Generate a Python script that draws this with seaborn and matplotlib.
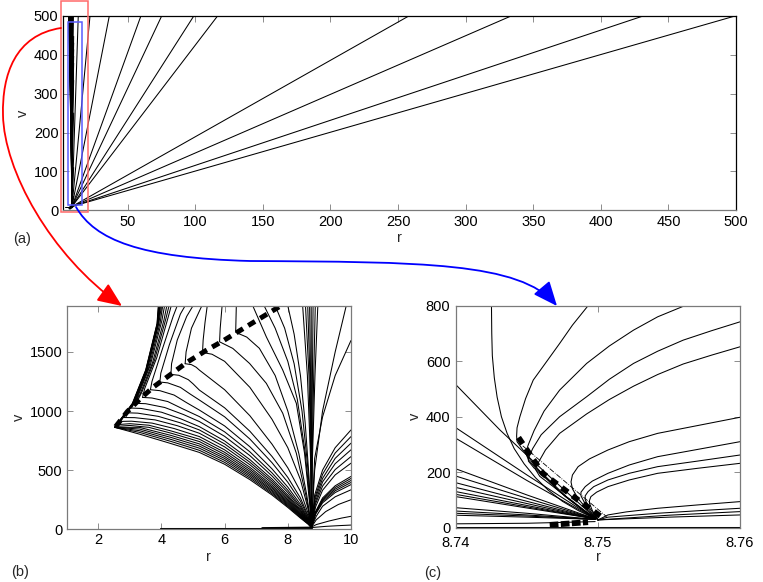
import numpy as np
import pandas as pd
import matplotlib
matplotlib.use("Agg")
import matplotlib.pyplot as plt
import seaborn as sns
from matplotlib.path import Path
from matplotlib.patches import FancyArrowPatch, Rectangle

# ---------------- data (r, v) ----------------
# panel (b): lower branches of the left family (kink -> convergence point)
b_lower = [
    [(2.52,862),(3.3,805),(4.3,725),(5.2,650),(6.0,550),(6.8,420),(7.5,290),(8.0,185),(8.4,95),(8.65,42),(8.75,15)],
    [(2.52,862),(3.3,820),(4.3,743),(5.2,668),(6.0,566),(6.8,434),(7.5,301),(8.0,194),(8.4,101),(8.65,44),(8.75,15)],
    [(2.52,862),(3.3,834),(4.3,760),(5.2,686),(6.0,583),(6.8,448),(7.5,312),(8.0,202),(8.4,107),(8.65,47),(8.75,15)],
    [(2.52,862),(3.3,848),(4.3,777),(5.2,704),(6.0,599),(6.8,462),(7.5,324),(8.0,211),(8.4,113),(8.65,49),(8.75,15)],
    [(2.52,862),(3.3,862),(4.3,794),(5.2,722),(6.0,615),(6.8,476),(7.5,334),(8.0,220),(8.4,118),(8.65,51),(8.75,15)],
    [(2.57,870),(3.0,878),(3.6,862),(4.3,813),(5.2,742),(6.0,633),(6.8,491),(7.5,347),(8.0,229),(8.4,125),(8.65,54),(8.75,15)],
    [(2.62,885),(3.0,893),(3.6,880),(4.3,832),(5.2,762),(6.0,651),(6.8,507),(7.5,359),(8.0,239),(8.4,131),(8.65,56),(8.75,15)],
    [(2.7,912),(3.05,914),(3.7,898),(4.4,852),(5.2,784),(6.0,672),(6.8,524),(7.5,373),(8.0,250),(8.4,138),(8.65,59),(8.75,15)],
    [(2.8,945),(3.15,944),(3.8,925),(4.5,876),(5.2,812),(6.0,697),(6.8,546),(7.5,390),(8.0,263),(8.4,147),(8.65,63),(8.75,15)],
    [(2.92,985),(3.25,982),(3.9,955),(4.6,900),(5.2,840),(6.0,722),(6.8,567),(7.5,407),(8.0,276),(8.4,156),(8.65,66),(8.75,15)],
    [(3.05,1025),(3.35,1022),(4.0,990),(4.6,935),(5.2,868),(6.0,747),(6.8,589),(7.5,425),(8.0,290),(8.4,165),(8.65,70),(8.75,15)],
    [(3.2,1065),(3.5,1062),(4.1,1030),(4.7,970),(5.2,911),(6.0,786),(6.8,623),(7.5,451),(8.0,311),(8.4,179),(8.65,75),(8.75,15)],
    [(3.4,1115),(3.7,1110),(4.2,1080),(4.7,1015),(5.2,953),(6.0,824),(6.8,655),(7.5,477),(8.0,331),(8.4,193),(8.65,80),(8.75,15)],
    [(3.65,1180),(3.95,1172),(4.4,1135),(4.8,1070),(5.2,1008),(6.0,874),(6.8,698),(7.5,511),(8.0,357),(8.4,211),(8.65,87),(8.75,15)],
    [(3.95,1245),(4.2,1238),(4.6,1200),(4.9,1145),(5.2,1093),(6.0,951),(6.8,763),(7.5,563),(8.0,398),(8.4,238),(8.65,98),(8.75,15)],
    [(4.3,1310),(4.55,1302),(4.85,1265),(5.0,1230),(5.2,1177),(6.0,1027),(6.8,829),(7.5,616),(8.0,439),(8.4,265),(8.65,109),(8.75,15)],
    [(4.75,1400),(4.95,1392),(5.1,1370),(5.2,1346),(6.0,1180),(6.8,960),(7.5,720),(8.0,520),(8.4,320),(8.65,130),(8.75,15)],
]
# panel (b): upper branches of the same family (kink -> top)
b_upper = [
    [(2.52,862),(3.08,1065),(3.5,1346),(3.86,1739),(3.9,1890)],
    [(2.52,862),(3.085,1063),(3.505,1344),(3.865,1737),(3.91,1890)],
    [(2.52,862),(3.09,1061),(3.51,1342),(3.87,1735),(3.92,1890)],
    [(2.52,862),(3.095,1059),(3.515,1340),(3.875,1733),(3.93,1890)],
    [(2.52,862),(3.1,1057),(3.52,1338),(3.88,1731),(3.94,1890)],
    [(2.57,870),(3.11,1062),(3.53,1344),(3.89,1735),(3.95,1890)],
    [(2.62,885),(3.12,1070),(3.54,1350),(3.9,1740),(3.97,1890)],
    [(2.7,912),(3.15,1080),(3.56,1360),(3.92,1745),(4.0,1890)],
    [(2.8,945),(3.2,1100),(3.6,1370),(3.96,1750),(4.04,1890)],
    [(2.92,985),(3.25,1120),(3.65,1390),(4.01,1760),(4.1,1890)],
    [(3.05,1025),(3.32,1140),(3.72,1410),(4.08,1770),(4.17,1890)],
    [(3.2,1065),(3.38,1160),(3.78,1430),(4.14,1780),(4.24,1890)],
    [(3.4,1115),(3.47,1190),(3.85,1450),(4.21,1790),(4.31,1890)],
    [(3.65,1180),(3.7,1250),(4.0,1500),(4.37,1800),(4.5,1890)],
    [(3.95,1245),(3.98,1320),(4.25,1560),(4.6,1820),(4.75,1890)],
    [(4.3,1310),(4.32,1400),(4.5,1600),(4.8,1800),(5.0,1890)],
    [(4.75,1400),(4.78,1500),(4.95,1700),(5.28,1890)],
]
# panel (b): curves entering from the top
b_top = [
    [(5.45,1890),(5.38,1750),(5.32,1600),(5.3,1495),(5.6,1480),(6.0,1420),(6.8,1200),(7.5,930),(8.0,690),(8.4,420),(8.65,165),(8.75,18)],
    [(5.92,1890),(5.86,1700),(5.84,1585),(6.26,1529),(6.79,1402),(7.32,1234),(7.84,981),(8.27,643),(8.58,278),(8.75,20)],
    [(6.37,1890),(6.36,1780),(6.35,1665),(6.7,1625),(7.1,1530),(7.6,1300),(8.0,1000),(8.35,640),(8.6,290),(8.75,20)],
    [(6.89,1890),(7.32,1627),(7.84,1346),(8.27,1065),(8.53,643),(8.69,222),(8.75,25)],
    [(7.25,1890),(7.6,1700),(8.0,1420),(8.3,1100),(8.55,650),(8.7,240),(8.75,25)],
    [(7.6,1890),(7.9,1700),(8.2,1400),(8.45,1000),(8.62,560),(8.72,200),(8.75,25)],
    [(8.0,1890),(8.2,1650),(8.4,1300),(8.55,900),(8.67,450),(8.75,30)],
]
# panel (b): near-vertical bundle above the convergence point
b_bundle = [
    [(8.75,20),(8.72,600),(8.62,1300),(8.47,1890)],
    [(8.75,20),(8.73,600),(8.67,1300),(8.56,1890)],
    [(8.75,20),(8.74,600),(8.7,1300),(8.63,1890)],
    [(8.75,20),(8.745,600),(8.72,1300),(8.69,1890)],
    [(8.75,20),(8.75,600),(8.745,1300),(8.74,1890)],
    [(8.75,20),(8.76,600),(8.78,1300),(8.8,1890)],
    [(8.75,20),(8.77,600),(8.82,1300),(8.87,1890)],
    [(8.75,20),(8.78,600),(8.86,1300),(8.95,1890)],
]
# panel (b): curves leaving the convergence point to the right
b_right = [
    [(8.75,20),(8.85,500),(9.1,1000),(9.5,1500),(9.85,1890)],
    [(8.75,20),(8.85,600),(9.1,950),(9.5,1300),(10.0,1596)],
    [(8.75,20),(8.85,290),(9.1,500),(9.5,690),(10.0,840)],
    [(8.75,20),(8.86,270),(9.1,465),(9.5,645),(10.0,784)],
    [(8.75,20),(8.86,250),(9.1,430),(9.5,600),(10.0,728)],
    [(8.75,20),(8.87,230),(9.1,400),(9.5,555),(10.0,672)],
    [(8.75,20),(8.87,210),(9.1,365),(9.5,505),(10.0,615)],
    [(8.75,20),(8.88,190),(9.1,330),(9.5,460),(10.0,559)],
    [(8.75,20),(8.88,150),(9.1,265),(9.5,368),(10.0,447)],
    [(8.75,20),(8.88,145),(9.1,255),(9.5,354),(10.0,430)],
    [(8.75,20),(8.88,140),(9.1,245),(9.5,340),(10.0,413)],
    [(8.75,20),(8.88,135),(9.1,235),(9.5,326),(10.0,396)],
    [(8.75,20),(8.88,128),(9.1,224),(9.5,311),(10.0,378)],
    [(8.75,20),(8.9,110),(9.1,195),(9.5,275),(10.0,334)],
    [(8.75,20),(8.9,80),(9.2,150),(9.6,210),(10.0,250)],
    [(8.75,20),(8.9,40),(9.3,70),(9.7,95),(10.0,110)],
    [(8.75,15),(9.2,25),(9.6,31),(10.0,36)],
]
b_bottom_thin = [(3.95,8),(8.75,8)]
b_bottom_thick = [(7.2,6),(8.75,10)]
b_dashed = [(2.55,868),(2.92,995),(3.34,1107),(3.76,1206),(4.29,1309),
            (4.8,1410),(5.4,1510),(5.9,1585),(6.7,1715),(7.75,1885)]

# panel (a): straight rays from the convergence point to v = 500
a_ray_start = (8.75, 10)
a_ray_end_r = [13.4, 22.1, 36.4, 59.8, 75.2, 99.0, 116.6, 258.3, 334.1, 431.9, 500.0]
a_ray_end_v = [500, 500, 500, 500, 500, 500, 500, 500, 500, 500, 500]

# panel (c): zoom on the convergence point
c_left = [
    [(8.74,515),(8.7431,352),(8.7466,184),(8.7497,40),(8.75,28)],
    [(8.74,360),(8.745,190),(8.7498,32)],
    [(8.74,322),(8.745,170),(8.7498,32)],
    [(8.74,212),(8.745,118),(8.7498,32)],
    [(8.74,186),(8.745,106),(8.7498,32)],
    [(8.74,162),(8.745,95),(8.7498,32)],
    [(8.74,145),(8.745,87),(8.7498,32)],
    [(8.74,130),(8.745,80),(8.7498,32)],
    [(8.74,120),(8.745,75),(8.7498,32)],
    [(8.74,112),(8.745,71),(8.7498,32)],
    [(8.74,72),(8.745,52),(8.7498,30)],
    [(8.74,60),(8.745,46),(8.7498,30)],
    [(8.74,52),(8.745,42),(8.7498,30)],
    [(8.74,45),(8.745,38),(8.7498,30)],
    [(8.74,14),(8.745,16),(8.7498,22)],
]
c_topcurve = [(8.7425,800),(8.74252,700),(8.74256,620),(8.7427,540),(8.7429,470),(8.7432,400),
              (8.7436,340),(8.7441,285),(8.7448,230),(8.7456,180),(8.7465,135),(8.7475,95),
              (8.7486,62),(8.7498,32)]
c_turning = [
    [(8.7493,800),(8.7482,730),(8.7473,664),(8.7464,600),(8.74544,532),(8.7449,465),(8.7445,400),
     (8.7443,360),(8.74427,330),(8.7443,310),(8.745,260),(8.7458,210),(8.7467,160),(8.7477,112),
     (8.7488,70),(8.7498,34)],
    [(8.7561,800),(8.7542,760),(8.7525,712),(8.7508,655),(8.7492,592),(8.7473,496),(8.7462,420),
     (8.7455,350),(8.7451,300),(8.7449,270),(8.7451,245),(8.7456,215),(8.7462,190),(8.747,150),
     (8.7479,105),(8.7489,65),(8.7498,34)],
    [(8.76,742),(8.758,710),(8.756,676),(8.7542,636),(8.7525,592),(8.7508,535),(8.7492,472),
     (8.7473,400),(8.746,335),(8.7454,285),(8.7451,250),(8.7451,240),(8.7455,215),(8.7465,170),
     (8.7473,130),(8.7481,98),(8.749,62),(8.7498,34)],
    [(8.76,652),(8.758,622),(8.756,590),(8.7542,552),(8.7525,510),(8.7508,462),(8.7492,410),
     (8.7473,340),(8.7463,280),(8.7458,235),(8.7456,210),(8.7459,185),(8.7468,150),(8.7476,118),
     (8.7483,92),(8.7491,60),(8.7498,34)],
    [(8.76,398),(8.757,368),(8.7542,340),(8.7522,310),(8.7507,280),(8.7494,248),(8.7486,220),
     (8.7482,190),(8.7481,165),(8.7482,140),(8.7486,105),(8.7493,62),(8.75,28)],
    [(8.76,310),(8.757,282),(8.7542,256),(8.7522,226),(8.7507,196),(8.7496,168),(8.7491,148),
     (8.7488,128),(8.7488,115),(8.7491,85),(8.7496,50),(8.75,28)],
    [(8.76,262),(8.757,240),(8.7542,220),(8.7522,196),(8.7507,172),(8.7497,148),(8.7493,130),
     (8.7491,115),(8.7491,100),(8.7494,72),(8.75,28)],
    [(8.76,232),(8.757,214),(8.7542,196),(8.7522,172),(8.7507,148),(8.7499,128),(8.7495,112),
     (8.7494,98),(8.7494,88),(8.7496,62),(8.75,28)],
    [(8.76,94),(8.757,82),(8.7542,70),(8.752,57),(8.7507,46),(8.75,28)],
    [(8.76,70),(8.757,61),(8.7542,52),(8.7507,38),(8.75,28)],
    [(8.76,58),(8.755,45),(8.75,28)],
    [(8.76,46),(8.755,38),(8.75,28)],
]
c_bottom = [(8.74,4),(8.76,4)]
c_dashed = [(8.7444,325),(8.7461,196),(8.7486,100),(8.7502,40)]
c_dashdot = [(8.7447,295),(8.7506,40)]
c_blob = [(8.7466,10),(8.7493,20)]

# ---------------- figure ----------------
sns.set_theme(style="white")
plt.rcParams["font.family"] = ["Liberation Sans", "DejaVu Sans"]
FS = 10.5
plt.rcParams["font.size"] = FS

W, H = 763, 582
fig = plt.figure(figsize=(W / 100, H / 100), dpi=100)
ax_a = fig.add_axes([0.0822, 0.6385, 0.8824, 0.3345])
ax_b = fig.add_axes([0.0874, 0.0905, 0.3726, 0.3842])
ax_c = fig.add_axes([0.5976, 0.0933, 0.3723, 0.3814])


def draw(ax, pts, lw=0.75, ls="-", color="black"):
    df = pd.DataFrame(pts, columns=["r", "v"])
    sns.lineplot(data=df, x="r", y="v", ax=ax, sort=False, estimator=None,
                 color=color, linewidth=lw, linestyle=ls)


thick_dash = (0, (1.6, 1.2))

for ax in (ax_a, ax_b):
    for grp in (b_lower, b_upper, b_top, b_bundle, b_right):
        for cv in grp:
            draw(ax, cv)
    draw(ax, b_bottom_thin)
    draw(ax, b_bottom_thick, lw=2.2)

draw(ax_b, b_dashed, lw=3.6, ls=thick_dash)

for er, ev in zip(a_ray_end_r, a_ray_end_v):
    draw(ax_a, [a_ray_start, (er, ev)])

for grp in (c_left, c_turning):
    for cv in grp:
        draw(ax_c, cv)
draw(ax_c, c_topcurve)
draw(ax_c, c_bottom)
draw(ax_c, c_dashdot, lw=0.6, ls="-.")
draw(ax_c, c_dashed, lw=4.2, ls=(0, (1.3, 1.0)))
draw(ax_c, c_blob, lw=4.2, ls=(0, (1.5, 0.4)))

# axes limits / ticks
ax_a.set_xlim(1.9, 500)
ax_a.set_ylim(0, 500)
ax_a.set_xticks(np.arange(50, 501, 50))
ax_a.set_yticks(np.arange(0, 501, 100))

ax_b.set_xlim(1, 10)
ax_b.set_ylim(0, 1890)
ax_b.set_xticks([2, 4, 6, 8, 10])
ax_b.set_yticks([0, 500, 1000, 1500])

ax_c.set_xlim(8.74, 8.76)
ax_c.set_ylim(0, 800)
ax_c.set_xticks([8.74, 8.75, 8.76])
ax_c.set_xticklabels(["8.74", "8.75", "8.76"])
ax_c.set_yticks([0, 200, 400, 600, 800])

grey = "#7a7a7a"
for ax in (ax_a, ax_b, ax_c):
    ax.set_xlabel("r", fontsize=FS, labelpad=2)
    ax.set_ylabel("v", fontsize=FS, labelpad=3)
    for s in ax.spines.values():
        s.set_visible(True)
        s.set_color(grey)
        s.set_linewidth(0.9)
    ax.tick_params(direction="in", top=True, right=True, bottom=True, left=True,
                   length=4, width=0.6, color=grey, labelcolor="black",
                   labelsize=FS, pad=3)
    ax.grid(False)
ax_c.tick_params(axis="x", pad=6)
ax_c.tick_params(axis="y", pad=4)
ax_c.set_xlabel("r", fontsize=FS, labelpad=0)

for side in ("top", "right", "left"):
    ax_a.spines[side].set_color("black")

# highlight rectangles in panel (a)
ax_a.add_patch(Rectangle((0.44, -3.3), 20.5, 541, fill=False, edgecolor="#ff6a6a",
                         linewidth=1.1, clip_on=False, zorder=5))
ax_a.add_patch(Rectangle((5.6, 13.9), 10.4, 470, fill=False, edgecolor="#5a5aff",
                         linewidth=1.1, clip_on=False, zorder=5))

# connecting arrows (figure pixel positions, y from top)
def fpt(x, y):
    return (x / W, 1 - y / H)

red_path = Path([fpt(61, 28), fpt(15, 35), fpt(2, 75), fpt(3, 115),
                 fpt(4, 170), fpt(50, 255), fpt(122, 306)],
                [Path.MOVETO, Path.CURVE4, Path.CURVE4, Path.CURVE4,
                 Path.CURVE4, Path.CURVE4, Path.CURVE4])
blue_path = Path([fpt(76, 207), fpt(95, 240), fpt(140, 258), fpt(250, 261),
                  fpt(420, 262), fpt(520, 262), fpt(557, 306)],
                 [Path.MOVETO, Path.CURVE4, Path.CURVE4, Path.CURVE4,
                  Path.CURVE4, Path.CURVE4, Path.CURVE4])
for pth, col in ((red_path, "#ff0000"), (blue_path, "#0000ff")):
    arr = FancyArrowPatch(path=pth, arrowstyle="-|>,head_length=0.75,head_width=0.32",
                          mutation_scale=20, color=col, linewidth=1.3,
                          transform=fig.transFigure, zorder=10)
    fig.add_artist(arr)

fig.text(13 / W, 1 - 239 / H, "(a)", ha="left", va="center", fontsize=FS)
fig.text(11 / W, 1 - 572 / H, "(b)", ha="left", va="center", fontsize=FS)
fig.text(424 / W, 1 - 573 / H, "(c)", ha="left", va="center", fontsize=FS)

fig.savefig("out.png", dpi=100)
